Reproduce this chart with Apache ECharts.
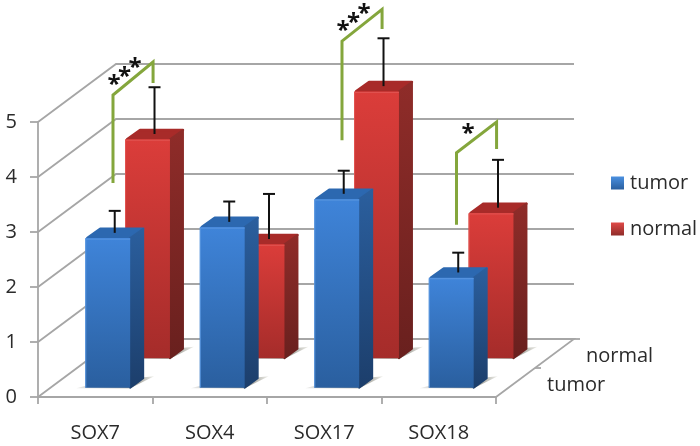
<!DOCTYPE html>
<html><head><meta charset="utf-8">
<style>html,body{margin:0;padding:0;background:#fff}#c{width:700px;height:446px}</style>
<script src="https://cdn.jsdelivr.net/npm/echarts@6/dist/echarts.min.js"></script>
</head><body><div id="c"></div>
<script>
var categories = ['SOX7','SOX4','SOX17','SOX18'];
var yTicks = [0,1,2,3,4,5];
var tumorValues = [2.72,2.92,3.43,2.00];
var normalValues = [3.98,2.07,4.85,2.64];
var tumorErrors = [0.40,0.37,0.42,0.36];
var normalErrors = [0.85,0.82,0.87,0.87];
var depthLabels = ['tumor','normal'];
// significance brackets: [low end, corner, peak, short end] values
var bracketValues = [[3.89,5.49,6.09,5.71],[4.67,6.47,7.05,6.69],[3.13,4.44,5.00,4.51]];
var bracketCats = [0,2,3];
var bracketMarks = ['***','***','*'];

var FONT = '"Open Sans"', INK = '#2b2b2b', WALL = '#a6a6a6', GREEN = '#84a63c';
var DX = 78, DY = -58, SX = 14, SY = -10.5, HALF = 0.196;
var G = echarts.graphic;
function vgrad(a,b){return new G.LinearGradient(0,0,0,1,[{offset:0,color:a},{offset:1,color:b}]);}
function hgrad(a,b){return new G.LinearGradient(0,0,1,0,[{offset:0,color:a},{offset:1,color:b}]);}
function poly(pts,fill,extra){return {type:'polygon',shape:{points:pts},style:Object.assign({fill:fill},extra||{})};}
function line(pts,color,w){return {type:'polyline',shape:{points:pts},style:{fill:null,stroke:color,lineWidth:w}};}

function barRender(depth,c,errs){
  return function(params,api){
    var i=api.value(0), v=api.value(1), err=errs[i];
    var base=api.coord([i,0]), band=api.size([1,0])[0], unit=api.size([0,1])[1];
    var hw=band*HALF, cx=base[0]+DX*depth, y0=base[1]+DY*depth;
    var top=api.coord([i,v])[1]+DY*depth;
    var l=cx-hw, r=cx+hw;
    var tcx=cx+SX/2, tcy=top+SY/2, capY=tcy-err*unit;
    var round={stroke:c.topFace,lineWidth:2.5,lineJoin:'round'};
    var roundSide={stroke:vgrad(c.sideTop,c.sideBot),lineWidth:2,lineJoin:'round'};
    return {type:'group',children:[
      poly([[l-9,y0+0.5],[l+4,y0-3],[r,y0-3],[r,y0+0.5]],hgrad('rgba(140,140,135,0.15)','#8f8f88')),
      poly([[r,y0+0.5],[r+SX,y0+SY],[r+SX+10,y0+SY-1]],hgrad('#85857e','#efefea')),
      poly([[l+2,top],[l+SX+1,top+SY+1.2],[r+SX-1,top+SY+1.2],[r,top]],c.topFace,round),
      poly([[r,y0],[r,top],[r+SX-1,top+SY+1.2],[r+SX-1,y0+SY+1]],vgrad(c.sideTop,c.sideBot),roundSide),
      poly([[l,y0],[l,top],[r,top],[r,y0]],vgrad(c.frontTop,c.frontBot)),
      line([[l+0.5,y0],[l+0.5,top+1],[r,top+1]],c.rim,1),
      line([[tcx,tcy],[tcx,capY]],'#111',2),
      line([[tcx-6,capY],[tcx+6,capY]],'#111',2)
    ]};
  };
}
var blue={frontTop:'#3f84d9',frontBot:'#2a5f9f',sideTop:'#2b5f9e',sideBot:'#1c3e6b',topFace:'#2c68b0',rim:'#5a97e0'};
var red ={frontTop:'#db3d3a',frontBot:'#a52c2a',sideTop:'#8f2c29',sideBot:'#69201e',topFace:'#a82b29',rim:'#e25552'};

var option={
  animation:false,
  backgroundColor:'#fff',
  textStyle:{fontFamily:FONT},
  legend:{
    left:606,top:168,orient:'vertical',itemWidth:13,itemHeight:13,itemGap:26,selectedMode:false,icon:'rect',
    textStyle:{fontFamily:FONT,fontSize:20,color:INK,padding:[0,0,0,1]},
    data:[
      {name:'tumor',itemStyle:{color:vgrad('#4a90e0','#2a5f9f')}},
      {name:'normal',itemStyle:{color:vgrad('#e04a48','#8f2c29')}}
    ]
  },
  grid:{left:38,top:122,width:458,height:275},
  xAxis:{type:'category',data:categories,boundaryGap:true,
    axisLine:{lineStyle:{color:WALL,width:1.8}},
    axisTick:{show:true,alignWithLabel:false,length:7,lineStyle:{color:WALL,width:1.8}},
    axisLabel:{fontFamily:FONT,fontSize:20,color:INK,margin:26}
  },
  yAxis:{type:'value',min:0,max:5,interval:1,
    axisLine:{show:true,lineStyle:{color:WALL,width:1.8}},
    axisTick:{show:true,length:8,lineStyle:{color:WALL,width:1.8}},
    splitLine:{show:false},
    axisLabel:{fontFamily:FONT,fontSize:20,color:INK,margin:21,padding:[6,0,0,0]}
  },
  series:[
    {name:'tumor',type:'custom',coordinateSystem:'cartesian2d',z:4,clip:false,silent:true,
      itemStyle:{color:'#3f84d9'},
      encode:{x:0,y:1},
      data:tumorValues.map(function(v,i){return [i,v];}),
      renderItem:barRender(0.16,blue,tumorErrors)},
    {name:'normal',type:'custom',coordinateSystem:'cartesian2d',z:3,clip:false,silent:true,
      itemStyle:{color:'#e03f3c'},
      encode:{x:0,y:1},
      data:normalValues.map(function(v,i){return [i,v];}),
      renderItem:barRender(0.67,red,normalErrors)},
    {name:'walls',type:'custom',coordinateSystem:'cartesian2d',z:1,clip:false,silent:true,
      encode:{x:0,y:1},
      data:yTicks.map(function(t){return [0,t];}),
      renderItem:function(params,api){
        var t=api.value(1), p=api.coord([0,t]), band=api.size([1,0])[0];
        var x0=p[0]-band/2, y=p[1], xR=x0+band*categories.length;
        var kids=[line([[x0,y],[x0+DX,y+DY],[xR+DX,y+DY]],WALL,1.8)];
        if(t===0){
          kids.push(line([[x0+DX,y+DY],[xR+DX,y+DY],[xR,y]],WALL,1.8));
          kids.push(line([[xR+DX,y+DY],[xR+DX+6,y+DY]],WALL,1.8));
          kids.push(line([[xR+DX/2,y+DY/2],[xR+DX/2+6,y+DY/2]],WALL,1.8));
          kids.push({type:'text',x:xR+51,y:y-12,style:{text:depthLabels[0],font:'20px '+FONT,fill:INK,textVerticalAlign:'middle'}});
          kids.push({type:'text',x:xR+90,y:y-41,style:{text:depthLabels[1],font:'20px '+FONT,fill:INK,textVerticalAlign:'middle'}});
        }
        return {type:'group',children:kids};
      }},
    {name:'brackets',type:'custom',coordinateSystem:'cartesian2d',z:5,clip:false,silent:true,
      encode:{x:0,y:1},
      data:bracketCats.map(function(c,i){return [c,i];}),
      renderItem:function(params,api){
        var cat=api.value(0), b=api.value(1), vals=bracketValues[b];
        var cx=api.coord([cat,0])[0], band=api.size([1,0])[0];
        var xa=cx+band*0.155, xb=cx+band*0.505;
        function Y(v){return api.coord([cat,v])[1];}
        var kids=[line([[xa,Y(vals[0])],[xa,Y(vals[1])],[xb,Y(vals[2])],[xb,Y(vals[3])]],GREEN,3)];
        var n=bracketMarks[b].length;
        for(var k=0;k<n;k++){
          var m=n===1?1:k;
          kids.push({type:'text',x:xa+1+10.5*m,y:Y(vals[1])-14.5-8.7*m+5,
            style:{text:'*',font:'bold 24px '+FONT,fill:'#111',textAlign:'center',textVerticalAlign:'middle'}});
        }
        return {type:'group',children:kids};
      }}
  ]
};
echarts.init(document.getElementById('c'),null,{renderer:'canvas'}).setOption(option);
</script></body></html>
